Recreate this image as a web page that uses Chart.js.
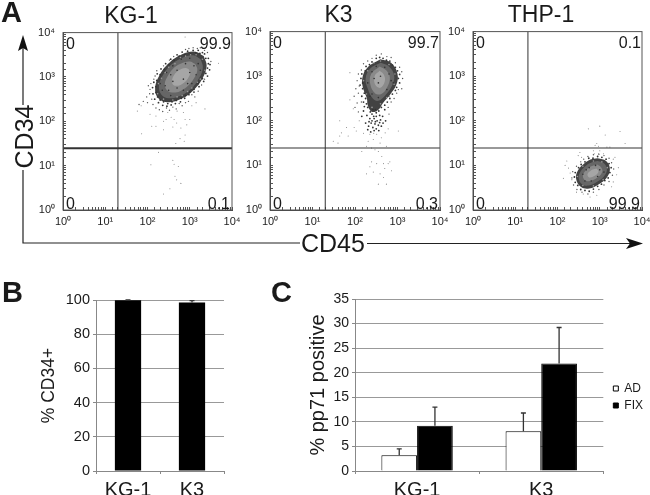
<!DOCTYPE html>
<html>
<head>
<meta charset="utf-8">
<script src="https://cdn.jsdelivr.net/npm/chart.js@4"></script>
<style>
html, body { margin: 0; padding: 0; width: 650px; height: 495px; overflow: hidden; background: #fff; }
#page { position: relative; width: 650px; height: 495px; overflow: hidden; filter: blur(0.4px); font-family: "Liberation Sans", Arial, sans-serif; color: #1a1a1a; }
canvas { position: absolute; }
.letter { position: absolute; font-weight: bold; font-size: 29px; line-height: 29px; }
.axisName { position: absolute; font-size: 25px; line-height: 25px; white-space: nowrap; }
svg { position: absolute; left: 0; top: 0; }
</style>
</head>
<body>
<div id="page">
  <canvas id="flowKg1" width="240" height="240" style="left:30px;top:0"></canvas>
  <canvas id="flowK3" width="240" height="240" style="left:237px;top:0"></canvas>
  <canvas id="flowThp1" width="238" height="240" style="left:440px;top:0"></canvas>
  <canvas id="barB" width="200" height="210" style="left:30px;top:285px"></canvas>
  <canvas id="barC" width="355" height="210" style="left:295px;top:285px"></canvas>
  <svg width="650" height="495">
    <g fill="none" stroke="#222" stroke-width="1.2">
      <path d="M23 105V48"/>
      <path d="M23 170V243H300"/>
      <path d="M367 243.5H632"/>
    </g>
    <g fill="#111">
      <path d="M23 35L28 51L23 48L18 51Z"/>
      <path d="M643 243.5L626 238L630 243.5L626 249Z"/>
    </g>
  </svg>
  <div class="letter" style="left:1px;top:-2px">A</div>
  <div class="letter" style="left:2px;top:278px">B</div>
  <div class="letter" style="left:271px;top:278px">C</div>
  <div class="axisName" style="left:-8px;top:124px;width:64px;text-align:center;transform:rotate(-90deg)">CD34</div>
  <div class="axisName" style="left:301px;top:231px">CD45</div>
</div>
<script>
// flow panels: all points are log10 decades
const decadeLabels = ['10\u2070', '10\u00b9', '10\u00b2', '10\u00b3', '10\u2074'];

const kg1Gate = [1.30, 1.39];
const kg1Corners = ['0', '99.9', '0', '0.1'];
const kg1Outer = [[3.33,3.475],[3.12,3.57],[2.82,3.51],[2.51,3.315],[2.28,3.035],[2.18,2.75],[2.25,2.525],[2.46,2.43],[2.76,2.49],[3.07,2.685],[3.3,2.965],[3.4,3.25],[3.33,3.475]];
const kg1Mid = [[3.26,3.4],[3.08,3.49],[2.82,3.43],[2.55,3.27],[2.36,3.03],[2.27,2.79],[2.33,2.6],[2.5,2.52],[2.76,2.57],[3.03,2.73],[3.22,2.97],[3.31,3.21],[3.26,3.4]];
const kg1Core = [[3.13,3.29],[3.0,3.35],[2.81,3.31],[2.62,3.2],[2.48,3.02],[2.41,2.85],[2.45,2.71],[2.58,2.65],[2.77,2.68],[2.96,2.8],[3.11,2.98],[3.18,3.16],[3.13,3.29]];
const kg1Inner = [[2.98,3.17],[2.91,3.2],[2.8,3.18],[2.69,3.11],[2.61,3.01],[2.58,2.91],[2.6,2.83],[2.67,2.8],[2.78,2.82],[2.89,2.89],[2.97,2.99],[3.01,3.09],[2.98,3.17]];
const kg1Fringe = [[3.35,3.52],[3.3,3.55],[3.24,3.53],[3.2,3.6],[3.14,3.55],[3.08,3.6],[3.02,3.52],[2.95,3.58],[2.88,3.5],[2.82,3.56],[2.75,3.47],[2.7,3.5],[2.63,3.38],[2.55,3.4],[2.5,3.28],[2.43,3.3],[2.4,3.17],[2.32,3.18],[2.3,3.05],[2.23,3.07],[2.22,2.92],[2.15,2.88],[2.2,2.78],[2.12,2.76],[2.2,2.65],[2.13,2.62],[2.24,2.55],[2.17,2.5],[2.3,2.48],[2.26,2.42],[2.38,2.44],[2.36,2.36],[2.48,2.4],[2.46,2.34],[2.58,2.44],[2.56,2.37],[2.68,2.47],[2.66,2.4],[2.8,2.52],[2.78,2.44],[2.9,2.58],[2.88,2.52],[3.0,2.66],[2.98,2.6],[3.1,2.72],[3.1,2.66],[3.2,2.85],[3.22,2.78],[3.3,2.96],[3.33,2.9],[3.38,3.08],[3.42,3.02],[3.42,3.2],[3.47,3.16],[3.44,3.3],[3.48,3.28],[3.38,3.42],[3.44,3.42]];
const kg1DarkSpeck = [[2.5,2.7],[2.6,2.9],[2.7,2.75],[2.85,2.95],[3.0,3.1],[3.1,3.25],[2.9,3.3],[2.7,3.15],[2.55,3.05],[2.42,2.8],[2.35,2.7],[2.95,2.85],[3.15,3.05],[3.2,3.3],[2.8,3.4],[2.6,3.25],[2.45,3.1],[2.3,2.85],[2.55,2.58],[2.85,2.7],[3.05,2.85],[3.25,3.15],[3.0,3.42]];
const kg1LightSpeck = [[3.3,3.4],[3.15,3.5],[2.9,3.47],[2.65,3.3],[2.42,3.1],[2.26,2.85],[2.24,2.62],[2.38,2.5],[2.6,2.48],[2.82,2.58],[3.05,2.75],[3.25,2.95],[3.36,3.15],[2.5,3.22],[2.33,2.97],[2.7,2.55],[2.95,2.67],[3.18,2.88],[3.02,3.5],[2.78,3.44]];
const kg1Halo = [[2.15,2.95],[2.08,2.85],[2.02,2.8],[2.05,2.62],[1.98,2.55],[2.1,2.5],[2.0,2.42],[1.9,2.45],[1.8,2.38],[2.13,2.38],[2.2,2.3],[2.28,2.26],[2.36,2.22],[2.45,2.3],[2.52,2.25],[2.6,2.32],[2.68,2.28],[2.75,2.4],[2.82,2.35],[2.97,2.45],[3.05,2.6],[3.12,2.55],[3.28,2.82],[3.35,2.95],[3.5,3.35],[3.42,3.55],[3.35,3.6],[3.25,3.66],[3.18,3.64],[3.08,3.66],[2.98,3.64],[2.9,3.62],[2.62,3.46],[2.52,3.38],[2.38,3.25],[2.22,3.14],[2.18,3.02],[2.06,2.72],[2.9,2.42],[3.2,2.68]];
const kg1Sparse = [[2.26,1.3],[2.08,1.02],[2.6,1.12],[2.63,1.03],[2.73,0.98],[2.65,0.76],[2.69,0.68],[2.79,0.6],[2.53,0.48],[2.38,0.36],[1.86,1.72],[2.89,3.9],[3.68,3.31],[2.1,1.89],[2.2,1.89],[2.38,1.81],[2.44,2.04],[2.56,2.09],[2.63,2.04],[2.6,1.87],[2.69,1.96],[2.79,1.85],[2.89,2.04],[3.0,2.04],[2.93,1.92],[2.77,1.61],[2.67,1.5],[2.87,1.55],[2.89,1.69],[2.38,2.0],[3.36,2.28],[2.06,2.16],[2.2,2.12],[1.76,2.23],[1.85,2.35],[2.48,2.2],[2.7,2.23],[3.05,2.35],[2.85,2.2],[3.15,2.42]];

const k3Gate = [1.30, 1.39];
const k3Corners = ['0', '99.7', '0', '0.3'];
const k3Outer = [[2.6,3.38],[2.85,3.3],[3.0,3.05],[2.97,2.8],[2.82,2.58],[2.66,2.4],[2.55,2.25],[2.4,2.2],[2.3,2.35],[2.28,2.5],[2.2,2.7],[2.17,2.95],[2.3,3.2],[2.6,3.38]];
const k3Mid = [[2.6,3.3],[2.8,3.22],[2.92,3.02],[2.88,2.8],[2.72,2.58],[2.55,2.45],[2.42,2.5],[2.3,2.72],[2.25,2.95],[2.36,3.17],[2.6,3.3]];
const k3Core = [[2.58,3.22],[2.74,3.13],[2.82,2.97],[2.76,2.76],[2.62,2.6],[2.47,2.62],[2.36,2.82],[2.38,3.05],[2.58,3.22]];
const k3Inner = [[2.58,3.12],[2.68,3.03],[2.7,2.88],[2.6,2.74],[2.48,2.8],[2.46,3.0],[2.58,3.12]];
const k3Fringe = [[2.5,3.4],[2.58,3.42],[2.66,3.4],[2.74,3.36],[2.82,3.34],[2.88,3.25],[2.95,3.2],[3.0,3.12],[3.05,3.04],[3.02,2.95],[3.05,2.85],[2.98,2.75],[2.95,2.68],[2.88,2.6],[2.82,2.5],[2.76,2.42],[2.7,2.35],[2.4,3.32],[2.34,3.26],[2.26,3.22],[2.24,3.12],[2.16,3.05],[2.14,2.95],[2.18,2.85],[2.12,2.8],[2.18,2.72],[2.22,2.62],[2.16,2.55],[2.25,2.5],[2.2,2.42],[2.27,2.38],[2.22,2.32],[2.3,2.3],[2.4,2.15],[2.5,2.18],[2.58,2.12],[2.35,2.05],[2.45,2.05],[2.52,2.0],[2.6,2.02],[2.38,1.95],[2.47,1.93],[2.55,1.9],[2.42,1.85],[2.5,1.82],[2.32,1.88],[2.25,1.95],[2.28,2.12],[2.2,2.22],[2.65,2.1],[2.7,2.25],[2.62,1.88],[2.37,1.75],[2.56,1.78],[2.44,2.1],[2.36,2.2],[2.48,2.25],[2.56,2.22],[2.4,2.0],[2.48,1.98],[2.33,1.98],[2.58,1.96],[2.3,1.8],[2.45,1.78],[2.5,2.1],[2.42,2.25],[2.62,2.3],[2.16,2.1],[2.72,2.0],[2.66,1.95]];
const k3DarkSpeck = [[2.4,3.1],[2.5,3.22],[2.7,3.2],[2.8,3.05],[2.85,2.9],[2.75,2.7],[2.55,2.52],[2.4,2.6],[2.3,2.85],[2.6,3.0],[2.55,2.85],[2.45,2.95],[2.9,2.85],[2.35,2.55]];
const k3LightSpeck = [[2.6,3.34],[2.8,3.26],[2.94,3.05],[2.92,2.82],[2.75,2.52],[2.6,2.38],[2.4,2.3],[2.27,2.6],[2.2,2.9],[2.3,3.12],[2.45,3.3]];
const k3Halo = [[2.5,3.47],[2.62,3.5],[2.75,3.44],[2.85,3.42],[2.95,3.3],[3.05,3.2],[3.1,3.1],[3.12,2.95],[3.1,2.72],[2.98,2.62],[2.92,2.5],[2.85,2.42],[2.78,2.3],[2.8,2.15],[2.08,2.62],[2.1,2.78],[2.05,2.9],[2.08,3.05],[2.15,3.14],[2.2,3.28],[2.3,3.34],[2.4,3.4],[2.02,2.72],[1.98,2.55],[2.05,2.4],[2.0,2.3],[2.15,2.42],[2.08,2.2],[2.8,2.55],[3.02,2.7]];
const k3Sparse = [[2.39,1.08],[2.63,1.2],[2.78,1.04],[2.27,0.81],[2.67,1.04],[2.51,1.04],[2.43,0.85],[2.86,0.88],[2.67,0.73],[2.55,0.58],[2.74,0.58],[2.35,0.97],[2.82,1.08],[2.59,0.81],[2.7,0.93],[1.49,1.54],[1.64,1.66],[1.6,1.5],[1.84,1.66],[1.68,1.73],[1.8,1.85],[1.64,2.0],[1.98,1.85],[2.1,2.0],[2.03,1.77],[1.96,2.27],[1.88,2.47],[1.88,3.08],[2.27,1.43],[2.39,1.39],[2.47,1.35],[2.31,1.54],[2.43,1.58],[2.59,1.5],[2.74,1.43],[2.55,1.31],[2.35,1.7],[2.51,1.7],[2.71,1.73],[3.02,1.77],[2.16,1.31],[2.2,1.72],[2.62,1.62],[2.44,1.72],[2.78,1.82]];

const thpGate = [1.30, 1.39];
const thpCorners = ['0', '0.1', '0', '99.9'];
const thpOuter = [[2.95,1.16],[3.15,1.1],[3.24,0.92],[3.16,0.72],[2.98,0.58],[2.75,0.48],[2.55,0.52],[2.44,0.7],[2.48,0.88],[2.62,1.03],[2.78,1.13],[2.95,1.16]];
const thpMid = [[2.95,1.1],[3.1,1.05],[3.17,0.9],[3.09,0.74],[2.93,0.63],[2.74,0.55],[2.58,0.58],[2.5,0.72],[2.55,0.87],[2.68,1.0],[2.82,1.07],[2.95,1.1]];
const thpCore = [[2.94,1.02],[3.03,0.96],[3.06,0.86],[2.96,0.74],[2.8,0.66],[2.66,0.66],[2.6,0.76],[2.67,0.89],[2.8,0.98],[2.94,1.02]];
const thpInner = [[2.92,0.93],[2.97,0.86],[2.87,0.76],[2.75,0.73],[2.71,0.8],[2.8,0.89],[2.92,0.93]];
const thpFringe = [[2.95,1.2],[3.05,1.18],[3.15,1.14],[3.22,1.04],[3.27,0.95],[3.24,0.84],[3.2,0.72],[3.12,0.66],[3.04,0.58],[2.95,0.53],[2.85,0.47],[2.75,0.42],[2.65,0.44],[2.55,0.46],[2.48,0.55],[2.42,0.62],[2.4,0.74],[2.42,0.84],[2.5,0.95],[2.56,1.02],[2.65,1.08],[2.74,1.16],[2.84,1.16]];
const thpDarkSpeck = [[2.75,0.95],[2.9,1.0],[3.0,0.9],[2.95,0.75],[2.8,0.65],[2.65,0.65],[2.6,0.8],[3.1,0.85],[2.68,0.9]];
const thpLightSpeck = [[3.05,1.08],[3.18,0.95],[3.08,0.68],[2.85,0.54],[2.6,0.55],[2.47,0.75],[2.6,0.98],[2.85,1.1]];
const thpHalo = [[2.62,1.14],[2.72,1.2],[2.85,1.24],[2.98,1.25],[3.1,1.22],[3.22,1.16],[3.28,1.06],[3.33,0.92],[3.3,0.78],[3.22,0.64],[3.1,0.56],[2.98,0.46],[2.85,0.4],[2.72,0.36],[2.58,0.4],[2.46,0.46],[2.38,0.56],[2.34,0.72],[2.36,0.86],[2.45,0.98],[2.55,1.08]];
const thpSparse = [[2.73,1.82],[3.0,1.88],[3.13,1.68],[3.48,1.76],[3.6,1.49],[2.93,1.49],[2.89,1.45],[2.97,1.43],[3.17,1.41],[3.24,1.41],[2.85,1.33],[3.0,1.33],[2.97,1.26],[2.87,1.26],[3.09,1.26],[2.22,1.1],[2.18,1.0],[2.26,0.94],[2.14,0.71],[2.34,0.68],[2.3,0.83],[2.49,1.22],[2.57,1.18],[2.53,1.29],[3.36,1.18],[3.32,1.14],[3.44,0.95],[3.4,0.79],[3.32,0.63],[3.28,0.52],[2.93,0.33],[2.77,0.29],[2.61,0.36],[2.45,0.4]];

// bar panels
const barBCategories = ['KG-1', 'K3'];
const barBValues = [99.9, 98.6];
const barBErrors = [0.1, 1.0];

const barCCategories = ['KG-1', 'K3'];
const barCAd = [3.2, 8.1];
const barCFix = [9.2, 21.9];
const barCAdErrors = [1.3, 3.7];
const barCFixErrors = [3.8, 7.3];

Chart.defaults.font.family = '"Liberation Sans", Arial, sans-serif';
Chart.defaults.color = '#1a1a1a';
Chart.defaults.animation = false;

const toPoints = pts => pts.map(p => ({ x: Math.pow(10, p[0]), y: Math.pow(10, p[1]) }));

function logAxis(width) {
    return {
        type: 'logarithmic',
        min: 1,
        max: 10000,
        border: { color: '#444', width: 1 },
        grid: { drawOnChartArea: false, tickLength: -3, tickColor: '#555', tickWidth: 1 },
        ticks: {
            autoSkip: false,
            maxRotation: 0,
            font: { size: 11 },
            color: '#222',
            padding: width ? 11 : 8,
            callback: v => {
                const d = Math.log10(v);
                return Number.isInteger(d) ? decadeLabels[d] : '';
            }
        },
        afterFit: s => {
            if (width) s.width = width;
            else s.height = 30;
        }
    };
}

const framePlugin = {
    id: 'frame',
    afterDatasetsDraw(chart, args, opts) {
        const a = chart.chartArea;
        const ctx = chart.ctx;
        ctx.save();
        ctx.strokeStyle = '#555';
        ctx.lineWidth = 1;
        ctx.strokeRect(a.left, a.top, a.right - a.left, a.bottom - a.top);
        // quadrant percentages
        ctx.fillStyle = '#1a1a1a';
        ctx.font = '16px "Liberation Sans", Arial, sans-serif';
        ctx.textBaseline = 'alphabetic';
        const c = opts.corners;
        ctx.textAlign = 'left';
        ctx.fillText(c[0], a.left + 3, a.top + 16);
        ctx.fillText(c[2], a.left + 3, a.bottom - 1);
        ctx.textAlign = 'right';
        ctx.fillText(c[1], a.right - 1, a.top + 16);
        ctx.fillText(c[3], a.right - 2, a.bottom - 1);
        ctx.restore();
    }
};

const errorPlugin = {
    id: 'errorBars',
    afterDatasetsDraw(chart, args, opts) {
        const ctx = chart.ctx;
        const y = chart.scales.y;
        ctx.save();
        ctx.strokeStyle = '#333';
        ctx.lineWidth = 1.3;
        opts.series.forEach((errs, i) => {
            const meta = chart.getDatasetMeta(i);
            meta.data.forEach((bar, j) => {
                const v = chart.data.datasets[i].data[j];
                const py = y.getPixelForValue(v + errs[j]);
                ctx.beginPath();
                ctx.moveTo(bar.x, bar.y);
                ctx.lineTo(bar.x, py);
                ctx.moveTo(bar.x - 2.5, py);
                ctx.lineTo(bar.x + 2.5, py);
                ctx.stroke();
            });
        });
        ctx.restore();
    }
};

// legend sits a bit further right than the library places it
const legendNudge = {
    id: 'legendNudge',
    afterLayout(chart) { chart.legend.left += 5; }
};

function contour(pts, color, order) {
    return { data: toPoints(pts), showLine: true, fill: 'shape', backgroundColor: color, borderWidth: 0, pointRadius: 0, tension: 0.4, order: order };
}
function dots(pts, color, radius, order) {
    return { data: toPoints(pts), showLine: false, backgroundColor: color, borderWidth: 0, pointRadius: radius, order: order };
}
function gateLine(pts, width) {
    return { data: toPoints(pts), showLine: true, borderColor: '#333', borderWidth: width, pointRadius: 0, fill: false, order: 0 };
}

function flowPanel(id, title, p) {
    new Chart(document.getElementById(id), {
        type: 'scatter',
        data: {
            datasets: [
                gateLine([[p.gate[0], 0], [p.gate[0], 4]], 1),
                gateLine([[0, p.gate[1]], [4, p.gate[1]]], p.gateWidth),
                dots(p.lightSpeck, '#9a9a9a', 0.8, 1),
                dots(p.darkSpeck, '#333', 0.8, 2),
                dots(p.sparse, '#888', 0.55, 3),
                dots(p.halo, '#555', 0.7, 4),
                dots(p.fringe, '#333', 0.9, 5),
                contour(p.inner, '#a6a6a6', 6),
                contour(p.core, '#8a8a8a', 7),
                contour(p.mid, '#666', 8),
                contour(p.outer, '#424242', 9)
            ]
        },
        options: {
            responsive: false,
            layout: { padding: { top: p.top, right: p.right, left: 0, bottom: 0 } },
            plugins: {
                legend: { display: false },
                tooltip: { enabled: false },
                title: { display: true, text: title, color: '#1a1a1a', font: { size: 23, weight: 'normal' }, padding: { top: 2, bottom: 2 } },
                frame: { corners: p.corners }
            },
            scales: { x: logAxis(0), y: logAxis(33) }
        },
        plugins: [framePlugin]
    });
}

flowPanel('flowKg1', 'KG-1', { outer: kg1Outer, mid: kg1Mid, core: kg1Core, inner: kg1Inner, fringe: kg1Fringe, darkSpeck: kg1DarkSpeck, lightSpeck: kg1LightSpeck, halo: kg1Halo, sparse: kg1Sparse, gate: kg1Gate, corners: kg1Corners, right: 38, top: 1, gateWidth: 2 });
flowPanel('flowK3', 'K3', { outer: k3Outer, mid: k3Mid, core: k3Core, inner: k3Inner, fringe: k3Fringe, darkSpeck: k3DarkSpeck, lightSpeck: k3LightSpeck, halo: k3Halo, sparse: k3Sparse, gate: k3Gate, corners: k3Corners, right: 37, top: 0, gateWidth: 1.2 });
flowPanel('flowThp1', 'THP-1', { outer: thpOuter, mid: thpMid, core: thpCore, inner: thpInner, fringe: thpFringe, darkSpeck: thpDarkSpeck, lightSpeck: thpLightSpeck, halo: thpHalo, sparse: thpSparse, gate: thpGate, corners: thpCorners, right: 36, top: 0, gateWidth: 1 });

const barAxisX = {
    offset: true,
    border: { color: '#888' },
    grid: { drawOnChartArea: false, offset: true, tickLength: 3, tickColor: '#888' },
    ticks: { font: { size: 20 }, color: '#1a1a1a', padding: 4, maxRotation: 0 },
    afterFit: s => { s.height = 24; }
};

new Chart(document.getElementById('barB'), {
    type: 'bar',
    data: {
        labels: barBCategories,
        datasets: [{ data: barBValues, backgroundColor: '#000', barPercentage: 0.41, categoryPercentage: 1 }]
    },
    options: {
        responsive: false,
        layout: { padding: { top: 15, right: 6, left: 0, bottom: 0 } },
        plugins: { legend: { display: false }, tooltip: { enabled: false }, errorBars: { series: [barBErrors] } },
        scales: {
            x: barAxisX,
            y: {
                min: 0, max: 100,
                border: { color: '#888' },
                grid: { color: '#999', tickLength: 3, tickColor: '#888' },
                ticks: { stepSize: 20, font: { size: 14.5 }, color: '#1a1a1a', padding: 3 },
                title: { display: true, text: '% CD34+', font: { size: 17.5 }, color: '#1a1a1a', padding: { top: 9, bottom: 0 } },
                afterFit: s => { s.width = 66; }
            }
        }
    },
    plugins: [errorPlugin]
});

new Chart(document.getElementById('barC'), {
    type: 'bar',
    data: {
        labels: barCCategories,
        datasets: [
            { label: 'AD', data: barCAd, backgroundColor: '#fff', borderColor: '#000', borderWidth: 1, barPercentage: 1, categoryPercentage: 0.575 },
            { label: 'FIX', data: barCFix, backgroundColor: '#000', borderColor: '#000', borderWidth: 1, barPercentage: 1, categoryPercentage: 0.575 }
        ]
    },
    options: {
        responsive: false,
        layout: { padding: { top: 14, right: 2, left: 0, bottom: 0 } },
        plugins: {
            tooltip: { enabled: false },
            errorBars: { series: [barCAdErrors, barCFixErrors] },
            legend: {
                position: 'right',
                labels: { boxWidth: 5, boxHeight: 5, font: { size: 12 }, color: '#1a1a1a', padding: 5 }
            }
        },
        scales: {
            x: barAxisX,
            y: {
                min: 0, max: 35,
                border: { color: '#888' },
                grid: { color: '#999', tickLength: 3, tickColor: '#888' },
                ticks: { stepSize: 5, font: { size: 14 }, color: '#1a1a1a', padding: 3 },
                title: { display: true, text: '% pp71 positive', font: { size: 20 }, color: '#1a1a1a', padding: { top: 11, bottom: 0 } },
                afterFit: s => { s.width = 60; }
            }
        }
    },
    plugins: [errorPlugin, legendNudge]
});
</script>
</body>
</html>
